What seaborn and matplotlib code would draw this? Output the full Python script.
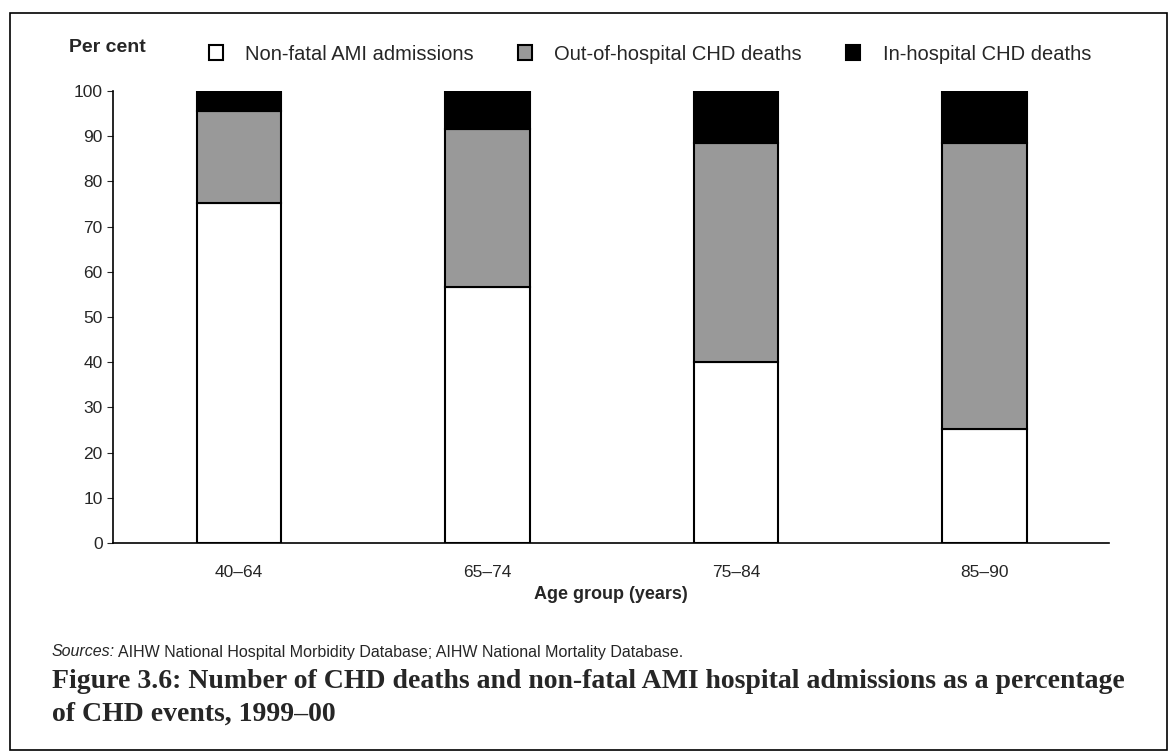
import matplotlib
matplotlib.use("Agg")
import matplotlib.pyplot as plt
import pandas as pd
import seaborn as sns
from matplotlib.patches import Rectangle

ages = ["40–64", "65–74", "75–84", "85–90"]
non_fatal = [75.3, 56.7, 40.1, 25.3]
out_hosp = [20.2, 34.8, 48.5, 63.1]
in_hosp = [4.5, 8.5, 11.4, 11.6]
series = ["Non-fatal AMI admissions", "Out-of-hospital CHD deaths", "In-hospital CHD deaths"]
colors = ["#ffffff", "#999999", "#000000"]

sns.set_style("white")
plt.rcParams["font.family"] = ["Liberation Sans", "DejaVu Sans"]

W, H = 1171, 753
fig = plt.figure(figsize=(W / 100, H / 100), dpi=100)
ax = fig.add_axes([113 / W, 1 - 543 / H, 996 / W, 452 / H])

df = pd.DataFrame({"age": ages, "a": non_fatal, "b": out_hosp, "c": in_hosp})
bottom = [0, 0, 0, 0]
for col, name, c in zip(["a", "b", "c"], series, colors):
    ax.bar(df["age"], df[col], bottom=bottom, width=0.34, color=c,
           edgecolor="black", linewidth=1.5, label=name)
    bottom = [b + v for b, v in zip(bottom, df[col])]

ax.set_ylim(0, 100)
ax.set_xlim(-0.507, 3.5)
ax.set_yticks(range(0, 101, 10))
ax.tick_params(axis="y", length=4, direction="out", left=True, labelsize=12.5)
ax.tick_params(axis="x", length=0, labelsize=12.5, pad=16)
for s in ["top", "right"]:
    ax.spines[s].set_visible(False)
for s in ["left", "bottom"]:
    ax.spines[s].set_color("black")
    ax.spines[s].set_linewidth(1.2)
ax.set_xlabel("Age group (years)", fontsize=13, fontweight="bold", labelpad=4)
fig.text(69 / W, 1 - 48 / H, "Per cent", fontsize=14, fontweight="bold",
         ha="left", va="center")
ax.legend(loc="center left", bbox_to_anchor=((209 - 113) / 996, 1 + (91 - 54) / 452), ncol=3,
          frameon=False, fontsize=14.5, handlelength=0.7, handleheight=0.7,
          columnspacing=2.2, handletextpad=1.1, borderaxespad=0, borderpad=0)

fig.text(52 / W, 1 - 652 / H, "Sources:", fontsize=11.5, style="italic", va="center")
fig.text(118 / W, 1 - 652 / H,
         "AIHW National Hospital Morbidity Database; AIHW National Mortality Database.",
         fontsize=11.5, va="center")
fig.text(52 / W, 1 - 698 / H,
         "Figure 3.6: Number of CHD deaths and non-fatal AMI hospital admissions as a percentage\nof CHD events, 1999–00",
         fontsize=20, fontweight="bold", family=["Liberation Serif", "DejaVu Serif"],
         linespacing=1.4, va="center")
fig.patches.append(Rectangle((10 / W, 3 / H), 1157 / W, 737 / H, transform=fig.transFigure,
                             fill=False, edgecolor="black", linewidth=1.2))

fig.savefig("out.png", dpi=100)
